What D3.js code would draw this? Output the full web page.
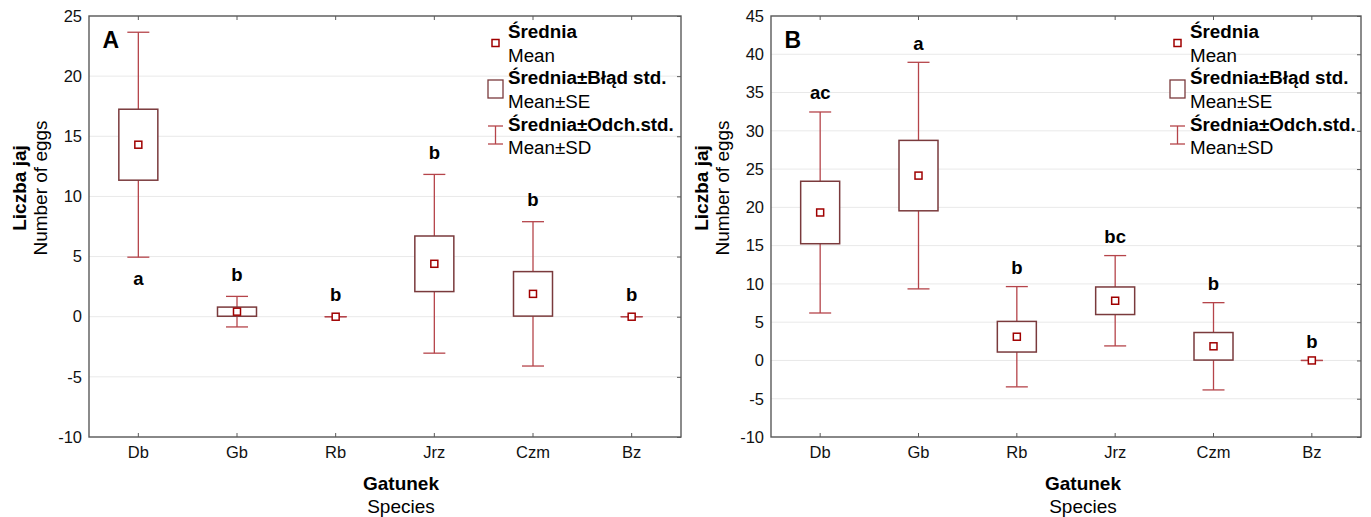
<!DOCTYPE html>
<html>
<head>
<meta charset="utf-8">
<script src="https://cdn.jsdelivr.net/npm/d3@7"></script>
<style>
  html, body { margin: 0; padding: 0; background: #fff; }
  svg { display: block; font-family: "Liberation Sans", Arial, sans-serif; }
</style>
</head>
<body>
<svg id="chart" width="1371" height="517"></svg>
<script>
// ---------- data ----------
const categories = ["Db", "Gb", "Rb", "Jrz", "Czm", "Bz"];

const meanA = [14.3, 0.42, 0, 4.4, 1.9, 0];
const seA   = [2.95, 0.38, 0, 2.31, 1.85, 0];
const sdA   = [9.35, 1.27, 0, 7.43, 6.0, 0];
const lettersA = ["a", "b", "b", "b", "b", "b"];
const letterSideA = ["below", "above", "above", "above", "above", "above"];
const yTicksA = [-10, -5, 0, 5, 10, 15, 20, 25];

const meanB = [19.33, 24.15, 3.1, 7.8, 1.85, 0];
const seB   = [4.08, 4.6, 2.0, 1.8, 1.8, 0];
const sdB   = [13.13, 14.8, 6.55, 5.9, 5.7, 0];
const lettersB = ["ac", "a", "b", "bc", "b", "b"];
const letterSideB = ["above", "above", "above", "above", "above", "above"];
const yTicksB = [-10, -5, 0, 5, 10, 15, 20, 25, 30, 35, 40, 45];

const legendBold = ["Średnia", "Średnia±Błąd std.", "Średnia±Odch.std."];
const legendReg  = ["Mean", "Mean±SE", "Mean±SD"];
const yTitle = ["Liczba jaj", "Number of eggs"];
const xTitle = ["Gatunek", "Species"];

// ---------- styles ----------
const WHISK = "#b5444a";
const BOX = "#7a3a3c";
const MEAN = "#a00000";
const FRAME = "#5a5a5a";
const GRID = "#e9e9e9";
const FONT = "Liberation Sans, Arial, sans-serif";

const svg = d3.select("#chart");

const panels = [
  { label: "A", left: 89, right: 681, top: 16, bottom: 437, ticks: yTicksA, gap: 15.5,
    mean: meanA, se: seA, sd: sdA, letters: lettersA, sides: letterSideA },
  { label: "B", left: 771, right: 1361, top: 16, bottom: 437, ticks: yTicksB, gap: 12.5,
    mean: meanB, se: seB, sd: sdB, letters: lettersB, sides: letterSideB }
];

panels.forEach(p => {
  const x = d3.scaleBand().domain(categories).range([p.left, p.right]).padding(0);
  const y = d3.scaleLinear().domain([d3.min(p.ticks), d3.max(p.ticks)]).range([p.bottom, p.top]);
  const cx = c => x(c) + x.bandwidth() / 2;
  const g = svg.append("g");

  // gridlines
  g.append("g").selectAll("line").data(p.ticks).join("line")
    .attr("x1", p.left).attr("x2", p.right)
    .attr("y1", d => y(d)).attr("y2", d => y(d))
    .attr("stroke", GRID).attr("stroke-width", 1);

  // y axis labels
  const yAx = g.append("g").attr("transform", `translate(${p.left},0)`)
    .call(d3.axisLeft(y).tickValues(p.ticks).tickSize(0).tickPadding(7).tickFormat(d => String(d)));
  yAx.select(".domain").remove();
  yAx.selectAll("text").attr("font-size", 16.5).attr("fill", "#111").attr("font-family", FONT);

  // right inner ticks
  const rAx = g.append("g").attr("transform", `translate(${p.right},0)`)
    .call(d3.axisLeft(y).tickValues(p.ticks).tickSize(4).tickFormat(""));
  rAx.select(".domain").remove();
  rAx.selectAll("line").attr("stroke", FRAME).attr("x2", -4);

  // top inner ticks
  const tAx = g.append("g").attr("transform", `translate(0,${p.top})`)
    .call(d3.axisBottom(x).tickSize(4).tickFormat(""));
  tAx.select(".domain").remove();
  tAx.selectAll("line").attr("stroke", FRAME);

  // bottom inner ticks + labels
  const bAx = g.append("g").attr("transform", `translate(0,${p.bottom})`)
    .call(d3.axisTop(x).tickSize(4).tickFormat(""));
  bAx.select(".domain").remove();
  bAx.selectAll("line").attr("stroke", FRAME);
  const bLab = g.append("g").attr("transform", `translate(0,${p.bottom})`)
    .call(d3.axisBottom(x).tickSize(0).tickPadding(9.5));
  bLab.select(".domain").remove();
  bLab.selectAll("text").attr("font-size", 16.5).attr("fill", "#111").attr("font-family", FONT);

  // frame
  g.append("rect").attr("x", p.left).attr("y", p.top)
    .attr("width", p.right - p.left).attr("height", p.bottom - p.top)
    .attr("fill", "none").attr("stroke", FRAME).attr("stroke-width", 1.4);

  // marks
  const rows = categories.map((c, i) => ({ c, m: p.mean[i], se: p.se[i], sd: p.sd[i], l: p.letters[i], side: p.sides[i] }));
  const capW = 20, boxW = 39, mk = 7;
  const mg = g.append("g");
  rows.forEach(r => {
    const X = cx(r.c);
    mg.append("line").attr("x1", X).attr("x2", X)
      .attr("y1", y(r.m + r.sd)).attr("y2", y(r.m - r.sd))
      .attr("stroke", WHISK).attr("stroke-width", 1.3);
    [r.m + r.sd, r.m - r.sd].forEach(v => {
      mg.append("line").attr("x1", X - capW / 2 - 1).attr("x2", X + capW / 2 + 1)
        .attr("y1", y(v)).attr("y2", y(v))
        .attr("stroke", WHISK).attr("stroke-width", 1.3);
    });
    if (r.se > 0) {
      mg.append("rect").attr("x", X - boxW / 2).attr("y", y(r.m + r.se))
        .attr("width", boxW).attr("height", y(r.m - r.se) - y(r.m + r.se))
        .attr("fill", "#fff").attr("stroke", BOX).attr("stroke-width", 1.5);
    }
    mg.append("rect").attr("x", X - mk / 2).attr("y", y(r.m) - mk / 2)
      .attr("width", mk).attr("height", mk)
      .attr("fill", "#fff").attr("stroke", MEAN).attr("stroke-width", 1.5);
    const ly = r.side === "below" ? y(r.m - r.sd) + 28 : y(r.m + r.sd) - p.gap;
    mg.append("text").attr("x", X).attr("y", ly).attr("text-anchor", "middle")
      .attr("font-size", 18.5).attr("font-weight", "bold").attr("fill", "#000").text(r.l);
  });

  // panel label
  g.append("text").attr("x", p.left + 13.5).attr("y", 48)
    .attr("font-size", 23).attr("font-weight", "bold").attr("fill", "#000").text(p.label);

  // legend
  const lx = p.left + 419, sx = p.left + 406.5;
  const base = [37.5, 61.5, 84, 107.5, 131, 154];
  const lg = g.append("g");
  legendBold.forEach((t, i) => {
    lg.append("text").attr("x", lx).attr("y", base[i * 2]).attr("font-size", 18.8)
      .attr("font-weight", "bold").attr("fill", "#000").text(t);
    lg.append("text").attr("x", lx).attr("y", base[i * 2 + 1]).attr("font-size", 18.8)
      .attr("fill", "#000").text(legendReg[i]);
  });
  lg.append("rect").attr("x", sx - 3.5).attr("y", 43 - 3.5).attr("width", 7).attr("height", 7)
    .attr("fill", "#fff").attr("stroke", MEAN).attr("stroke-width", 1.5);
  lg.append("rect").attr("x", sx - 7.5).attr("y", 80).attr("width", 15).attr("height", 18)
    .attr("fill", "#fff").attr("stroke", BOX).attr("stroke-width", 1.3);
  lg.append("line").attr("x1", sx).attr("x2", sx).attr("y1", 126).attr("y2", 144)
    .attr("stroke", WHISK).attr("stroke-width", 1.3);
  [126, 144].forEach(v => lg.append("line").attr("x1", sx - 7.5).attr("x2", sx + 7.5)
    .attr("y1", v).attr("y2", v).attr("stroke", WHISK).attr("stroke-width", 1.3));

  // axis titles
  const yc = 188;
  g.append("text").attr("transform", `translate(${p.left - 63},${yc}) rotate(-90)`)
    .attr("text-anchor", "middle").attr("font-size", 19).attr("font-weight", "bold")
    .attr("fill", "#000").text(yTitle[0]);
  g.append("text").attr("transform", `translate(${p.left - 42},${yc}) rotate(-90)`)
    .attr("text-anchor", "middle").attr("font-size", 19)
    .attr("fill", "#000").text(yTitle[1]);
  const xc = p.left + 312;
  g.append("text").attr("x", xc).attr("y", 490).attr("text-anchor", "middle")
    .attr("font-size", 19).attr("font-weight", "bold").attr("fill", "#000").text(xTitle[0]);
  g.append("text").attr("x", xc).attr("y", 513).attr("text-anchor", "middle")
    .attr("font-size", 19).attr("fill", "#000").text(xTitle[1]);
});
</script>
</body>
</html>
